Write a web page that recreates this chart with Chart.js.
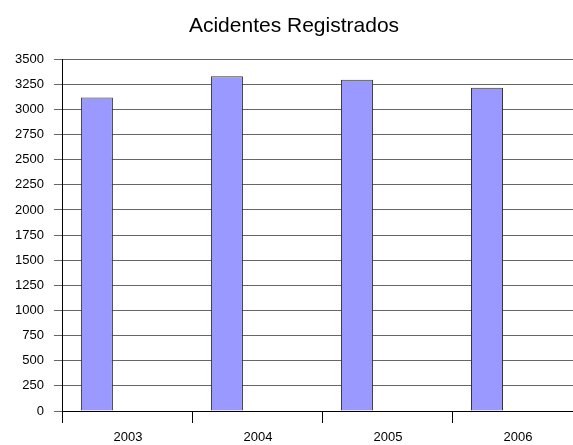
<!DOCTYPE html>
<html>
<head>
<meta charset="utf-8">
<script src="https://cdn.jsdelivr.net/npm/chart.js@4"></script>
<style>
  html, body { margin: 0; padding: 0; background: #fff; overflow: hidden; }
  #wrap { width: 573px; height: 445px; overflow: hidden; position: relative; }
  #wrap canvas { position: absolute; left: 0; top: 0; }
</style>
</head>
<body>
<div id="wrap"><canvas id="barChart" width="640" height="445"></canvas></div>
<script>
// Acidentes Registrados por ano
const years = ["2003", "2004", "2005", "2006"];
const accidents = [3120, 3330, 3295, 3215];
const emptySeries = [null, null, null, null];

const ctx = document.getElementById("barChart").getContext("2d");
new Chart(ctx, {
  type: "bar",
  data: {
    labels: years,
    datasets: [
      {
        label: "Acidentes",
        data: accidents,
        backgroundColor: "#9999ff",
        borderColor: "#333333",
        borderWidth: 1,
        categoryPercentage: 0.954,
        barPercentage: 0.516,
      },
      {
        label: "",
        data: emptySeries,
        categoryPercentage: 0.954,
        barPercentage: 0.516,
      },
    ],
  },
  options: {
    responsive: false,
    animation: false,
    layout: {
      padding: { left: 5, right: 57, top: 5, bottom: 1 },
    },
    plugins: {
      legend: { display: false },
      tooltip: { enabled: false },
      title: {
        display: true,
        text: "Acidentes Registrados",
        color: "#000",
        font: { family: "Arial, 'Liberation Sans'", size: 21, weight: "normal" },
        padding: { top: 9, bottom: 20 },
      },
    },
    scales: {
      x: {
        // tick (12) + gap (8) + one line of labels (13)
        afterFit: (scale) => {
          scale.height = 33;
        },
        grid: {
          offset: true,
          drawOnChartArea: false,
          color: "#000",
          tickLength: 12,
        },
        border: { color: "#000", width: 1 },
        ticks: {
          color: "#000",
          padding: 8,
          font: { family: "Arial, 'Liberation Sans'", size: 13, lineHeight: 1 },
        },
      },
      y: {
        min: 0,
        max: 3500,
        ticks: {
          stepSize: 250,
          color: "#000",
          padding: 10,
          font: { family: "Arial, 'Liberation Sans'", size: 13 },
          callback: (value) => String(value),
        },
        grid: {
          color: "#666",
          tickLength: 9,
        },
        border: { color: "#000", width: 1 },
      },
    },
  },
});
</script>
</body>
</html>
